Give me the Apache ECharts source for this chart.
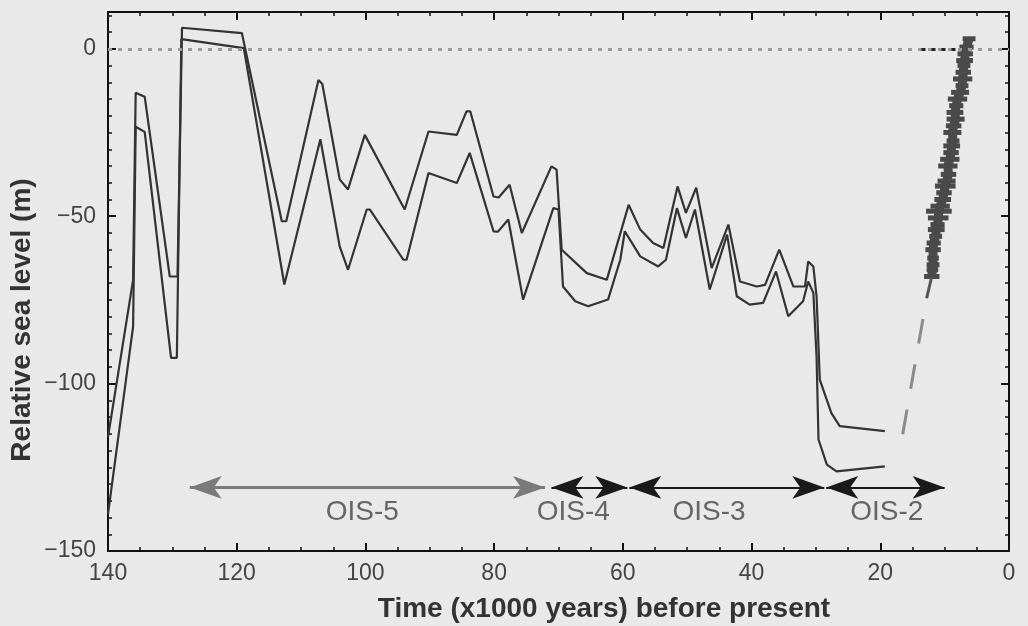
<!DOCTYPE html>
<html>
<head>
<meta charset="utf-8">
<title>Relative sea level</title>
<script src="https://cdn.jsdelivr.net/npm/echarts@6/dist/echarts.min.js"></script>
<style>
  html, body { margin: 0; padding: 0; background: #e9e9e9; }
  #chart { width: 1028px; height: 626px; }
</style>
</head>
<body>
<div id="chart"></div>
<script>
// upper sea level curve (age in ka, level in m)
var upperAge = [140, 136.1, 135.7, 134.3, 130.4, 129.2, 128.5, 119.2, 113.0, 112.3, 107.3, 106.7, 104.0, 102.7, 100.1, 93.9, 90.2, 85.8, 84.3, 83.7, 80.1, 79.3, 77.6, 75.7, 71.1, 70.3, 69.5, 65.6, 62.5, 59.1, 57.3, 55.3, 53.7, 51.5, 50.2, 48.6, 46.2, 43.6, 41.8, 39.2, 37.9, 35.7, 33.5, 31.7, 31.2, 30.4, 29.9, 29.4, 27.6, 26.3, 19.3];
var upperLevel = [-116, -69, -13.1, -14.3, -68, -68, 6.3, 4.7, -51.5, -51.5, -9.3, -10.5, -39, -42, -25.7, -48, -24.7, -25.7, -18.7, -18.7, -44.1, -44.4, -40.6, -55, -35.1, -36.1, -60, -67, -69, -46.6, -54, -58, -59.5, -41.1, -49, -41.5, -65.5, -52.5, -69.5, -71, -70.5, -60, -71, -71, -63.5, -65, -74, -98.8, -108.8, -112.7, -114.2];

// lower sea level curve
var lowerAge = [140, 136.1, 135.7, 134.3, 130.2, 129.3, 128.6, 118.9, 112.6, 107.0, 104.0, 102.7, 99.8, 99.3, 94.1, 93.6, 90.2, 85.8, 83.8, 80.1, 79.4, 77.8, 75.5, 70.8, 70.0, 69.3, 67.4, 65.4, 62.3, 60.4, 59.7, 57.3, 54.5, 53.3, 51.6, 50.2, 48.8, 46.5, 43.8, 42.3, 40.3, 38.2, 36.2, 34.3, 32.0, 31.2, 30.4, 29.9, 29.6, 28.3, 26.8, 19.3];
var lowerLevel = [-139, -83, -23.3, -24.8, -92.3, -92.3, 2.9, 0.2, -70.4, -27, -59, -66, -48, -48, -63, -63, -37.1, -40.1, -31.1, -54.5, -54.6, -51, -74.9, -47.6, -48, -71, -75.4, -76.9, -74.9, -63, -54.5, -62, -65, -63, -47.6, -56.5, -48, -71.9, -55.5, -73.9, -76.4, -75.9, -66.5, -79.9, -75.4, -69.5, -72.9, -92, -116.7, -124.2, -126.2, -124.7];

// deglacial data with age error (half width, ka)
var coralAge = [6.2, 6.6, 6.8, 6.9, 7.0, 7.1, 7.2, 7.3, 7.6, 8.0, 8.2, 8.4, 8.3, 8.6, 8.8, 8.7, 8.9, 9.0, 9.2, 9.5, 9.4, 9.7, 9.9, 10.1, 10.3, 10.7, 10.9, 11.0, 11.1, 11.3, 11.4, 11.7, 11.8, 11.8, 11.8, 11.9, 12.0];
var coralLevel = [3.0, 0.5, -1.5, -3.5, -5.0, -7.0, -9.0, -11.0, -13.0, -15.0, -17.0, -19.0, -21.0, -23.0, -25.0, -27.5, -29.0, -31.0, -33.0, -35.0, -37.5, -39.5, -41.0, -43.0, -45.0, -47.0, -48.5, -50.5, -52.5, -54.0, -56.0, -58.0, -60.0, -62.5, -64.5, -66.0, -68.0];
var coralAgeErr = [1.0, 1.1, 1.2, 1.3, 1.0, 1.2, 1.5, 1.0, 1.4, 1.5, 1.1, 1.3, 1.4, 1.2, 1.4, 1.0, 1.3, 1.2, 1.5, 1.5, 1.2, 1.4, 1.6, 1.2, 1.3, 1.5, 2.0, 1.6, 1.1, 1.3, 1.0, 1.1, 1.2, 0.9, 1.0, 0.9, 1.2];

// link from the data to the glacial curve
var linkAge = [12.0, 12.8];
var linkLevel = [-68, -74.5];
var dashAge = [12.8, 16.6];
var dashLevel = [-74.5, -116];

// isotope stages
var stageNames = ['OIS-5', 'OIS-4', 'OIS-3', 'OIS-2'];
var stageFrom = [127.3, 71.1, 59.0, 28.4];
var stageTo = [72.1, 59.3, 28.7, 10.0];
var stageLabelAge = [100.5, 67.7, 46.6, 19.0];
var stageArrowLevel = -131;
var stageLabelLevel = -138.5;

var xTicks = [140, 120, 100, 80, 60, 40, 20, 0];
var yTicks = [0, -50, -100, -150];

var font = '"Liberation Sans", Arial, sans-serif';
var ink = '#333';

function zip(a, b) {
    return a.map(function (v, i) { return [v, b[i]]; });
}

var tickStyle = { inside: true, length: 8, lineStyle: { color: '#111', width: 2 } };
var minorStyle = { show: true, length: 4, lineStyle: { color: '#111', width: 1.5 } };
var lineStyleAxis = { show: true, onZero: false, lineStyle: { color: '#111', width: 2 } };

function xAxisOf(pos, labels) {
    return {
        type: 'value', position: pos, inverse: true,
        min: xTicks[xTicks.length - 1], max: xTicks[0], interval: 20,
        axisLine: lineStyleAxis,
        axisTick: tickStyle,
        minorTick: Object.assign({ splitNumber: 4 }, minorStyle),
        splitLine: { show: false },
        axisLabel: { show: labels, margin: 11, fontSize: 23, color: '#444', fontFamily: font }
    };
}
function yAxisOf(pos, labels) {
    return {
        type: 'value', position: pos,
        min: yTicks[yTicks.length - 1], max: 11, interval: 50,
        axisLine: lineStyleAxis,
        axisTick: tickStyle,
        minorTick: Object.assign({ splitNumber: 10 }, minorStyle),
        splitLine: { show: false },
        axisLabel: {
            show: labels, margin: 12, fontSize: 23, color: '#444', fontFamily: font,
            formatter: function (v) {
                return yTicks.indexOf(v) >= 0 ? String(v).replace('-', '\u2212') : '';
            }
        }
    };
}

var chart = echarts.init(document.getElementById('chart'), null, { renderer: 'canvas' });

chart.setOption({
    animation: false,
    backgroundColor: '#e9e9e9',
    grid: { left: 108, right: 19, top: 12, bottom: 75, containLabel: false, outerBoundsMode: 'none' },
    xAxis: [xAxisOf('bottom', true), xAxisOf('top', false)],
    yAxis: [yAxisOf('left', true), yAxisOf('right', false)],
    graphic: [
        {
            type: 'text', x: 604, y: 609,
            style: { text: 'Time (x1000 years) before present', font: 'bold 28px ' + font, fill: ink, align: 'center', verticalAlign: 'middle' }
        },
        {
            type: 'text', x: 22, y: 320, rotation: Math.PI / 2,
            style: { text: 'Relative sea level (m)', font: 'bold 28px ' + font, fill: ink, align: 'center', verticalAlign: 'middle' }
        }
    ],
    series: [
        {
            name: 'zero', type: 'line', data: [], silent: true,
            markLine: {
                silent: true, symbol: 'none', label: { show: false },
                data: [
                    [{ coord: [140, 0], lineStyle: { color: '#9a9a9a', type: [4, 6], width: 3 } }, { coord: [0, 0] }],
                    [{ coord: [13.6, 0], lineStyle: { color: '#222', type: [4, 6], width: 3 } }, { coord: [7.6, 0] }]
                ]
            }
        },
        {
            name: 'upper', type: 'line', data: zip(upperAge, upperLevel),
            showSymbol: false, lineStyle: { color: ink, width: 2.2 }
        },
        {
            name: 'lower', type: 'line', data: zip(lowerAge, lowerLevel),
            showSymbol: false, lineStyle: { color: ink, width: 2.2 }
        },
        {
            name: 'link', type: 'line', data: zip(linkAge, linkLevel),
            showSymbol: false, lineStyle: { color: '#555', width: 3 }
        },
        {
            name: 'dash', type: 'line', data: zip(dashAge, dashLevel),
            showSymbol: false, lineStyle: { color: '#8a8a8a', width: 3, type: [25, 21], dashOffset: 25 }
        },
        {
            name: 'coral line', type: 'line', data: zip(coralAge, coralLevel),
            showSymbol: false, lineStyle: { color: '#4a4a4a', width: 9, join: 'round' }
        },
        {
            name: 'coral', type: 'custom',
            data: coralAge.map(function (a, i) { return [a, coralLevel[i], coralAgeErr[i]]; }),
            renderItem: function (params, api) {
                var age = api.value(0), lvl = api.value(1), err = api.value(2);
                var p1 = api.coord([age + err, lvl]);
                var p2 = api.coord([age - err, lvl]);
                return {
                    type: 'line',
                    shape: { x1: p1[0], y1: p1[1], x2: p2[0], y2: p2[1] },
                    style: { stroke: '#4a4a4a', lineWidth: 5 }
                };
            }
        },
        {
            name: 'stages', type: 'line', data: [], silent: true,
            markLine: {
                silent: true, label: { show: false },
                data: stageNames.map(function (n, i) {
                    var grey = i === 0;
                    var end = { symbol: 'arrow', symbolSize: [17, 32] };
                    return [
                        Object.assign({ coord: [stageFrom[i], stageArrowLevel], lineStyle: { color: grey ? '#7a7a7a' : '#1a1a1a', width: grey ? 3 : 2, type: 'solid' }, itemStyle: { color: grey ? '#7a7a7a' : '#1a1a1a' } }, end),
                        Object.assign({ coord: [stageTo[i], stageArrowLevel] }, end)
                    ];
                })
            }
        },
        {
            name: 'stage labels', type: 'scatter', silent: true,
            symbolSize: 1, itemStyle: { color: 'transparent' },
            data: stageNames.map(function (n, i) { return [stageLabelAge[i], stageLabelLevel, n]; }),
            label: {
                show: true, position: 'inside', formatter: function (p) { return p.value[2]; },
                fontSize: 28, color: '#444', fontFamily: font
            }
        }
    ]
});
</script>
</body>
</html>
